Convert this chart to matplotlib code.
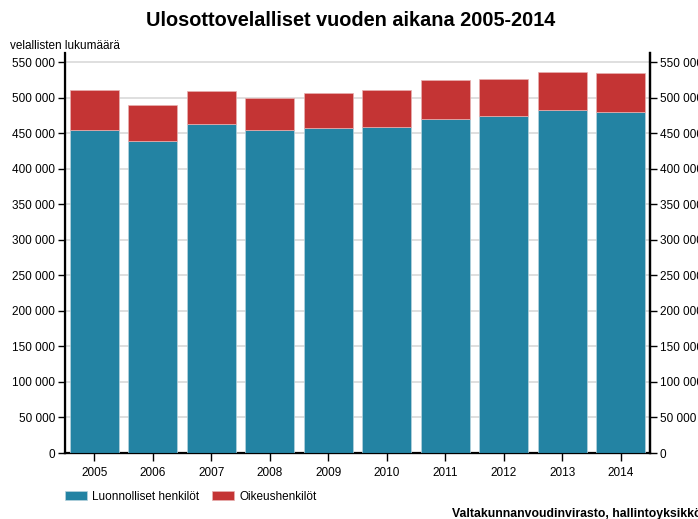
import numpy as np
import matplotlib.pyplot as plt

plt.rcParams['font.family'] = ['Liberation Sans', 'DejaVu Sans']

years = ['2005', '2006', '2007', '2008', '2009', '2010', '2011', '2012', '2013', '2014']
luonnolliset = [455300, 439800, 462800, 455300, 457100, 458600, 469800, 474000, 483400, 479600]
yhteensa = [511600, 489500, 510200, 500300, 506000, 511600, 525100, 527000, 536300, 534500]
oikeus = [t - l for t, l in zip(yhteensa, luonnolliset)]

blue = '#2383a3'
red = '#c43434'

fig = plt.figure(figsize=(6.98, 5.19), dpi=100)
ax = fig.add_axes([65/698, 1-453/519, 585/698, 400/519])

x = np.arange(len(years))
ax.bar(x, luonnolliset, width=0.84, color=blue, edgecolor='#b8d4de', linewidth=0.5,
       label='Luonnolliset henkilöt', zorder=3)
ax.bar(x, oikeus, width=0.84, bottom=luonnolliset, color=red, edgecolor='#e8b0b0',
       linewidth=0.5, label='Oikeushenkilöt', zorder=3)

ax.set_xlim(-0.5, 9.5)
ax.set_ylim(0, 563000)
yt = np.arange(0, 550001, 50000)
ylabels = ['0' if v == 0 else f'{v//1000} 000' for v in yt]
ax.set_yticks(yt)
ax.set_yticklabels(ylabels, fontsize=8.5)
ax.set_xticks(x)
ax.set_xticklabels(years, fontsize=8.5)
ax.tick_params(axis='y', length=5, width=1, pad=2)
ax.tick_params(axis='x', length=6, width=1, pad=4)
ax.grid(axis='y', color='#d9d9d9', linewidth=1.2, zorder=0)

for s in ['left', 'right', 'bottom']:
    ax.spines[s].set_linewidth(1.6)
ax.spines['top'].set_visible(False)

ax2 = ax.twinx()
ax2.set_ylim(ax.get_ylim())
ax2.set_yticks(yt)
ax2.set_yticklabels(ylabels, fontsize=8.5)
ax2.tick_params(axis='y', length=5, width=1, pad=2)
ax2.spines['top'].set_visible(False)
ax2.spines['right'].set_linewidth(1.6)

fig.text(351/698, 1-20/519, 'Ulosottovelalliset vuoden aikana 2005-2014', ha='center',
         va='center', fontsize=14.3, fontweight='bold')
fig.text(10/698, 1-46/519, 'velallisten lukumäärä', ha='left', va='center', fontsize=8.5)

h, l = ax.get_legend_handles_labels()
fig.legend(h, l, loc='center left', bbox_to_anchor=(54/698, 1-497/519), ncol=2,
           frameon=False, fontsize=8.5, handlelength=1.9, handleheight=0.8,
           columnspacing=1.1, handletextpad=0.4)

fig.text(452/698, 1-514/519, 'Valtakunnanvoudinvirasto, hallintoyksikkö', ha='left',
         va='center', fontsize=8.8, fontweight='bold')

fig.savefig('out.png', dpi=100)
